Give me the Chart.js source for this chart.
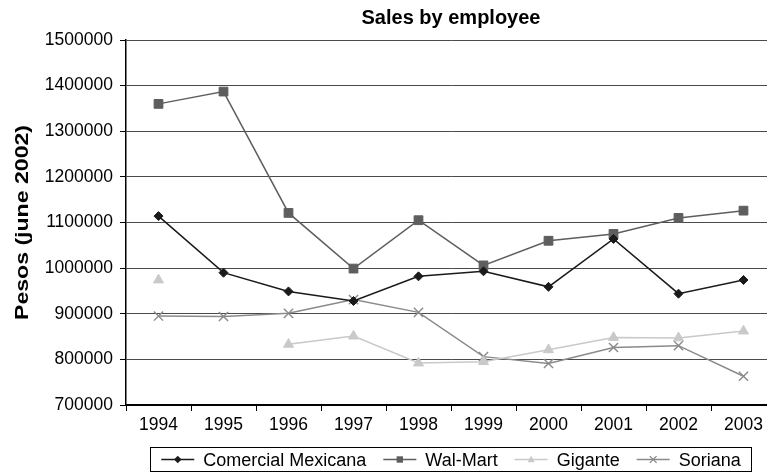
<!DOCTYPE html>
<html>
<head>
<meta charset="utf-8">
<script src="https://cdn.jsdelivr.net/npm/chart.js@4/dist/chart.umd.min.js"></script>
<style>
html,body{margin:0;padding:0;overflow:hidden;background:#fff;width:767px;height:474px}
canvas{display:block}
</style>
</head>
<body>
<canvas id="c" width="790" height="474"></canvas>
<script>
// ---- data ----
const years = ['1994','1995','1996','1997','1998','1999','2000','2001','2002','2003'];
const comercialMexicana = [1114000, 990000, 949000, 928000, 982000, 993000, 959000, 1064000, 944000, 974000];
const walMart = [1360000, 1387000, 1121000, 999000, 1105000, 1006000, 1060000, 1075000, 1110000, 1126000];
const gigante = [974000, null, 833000, 851000, 792000, 795000, 821000, 848000, 847000, 862000];
const soriana = [895000, 894000, 901000, 931000, 903000, 806000, 791000, 826000, 830000, 763000];
const yMin = 700000, yMax = 1500000, yStep = 100000;
const titleText = 'Sales by employee';
const yTitleText = 'Pesos (june 2002)';
const seriesNames = ['Comercial Mexicana', 'Wal-Mart', 'Gigante', 'Soriana'];

const FONT = '"Liberation Sans", Arial, Helvetica, sans-serif';
const styles = [
  {color:'#1a1a1a', shape:'diamond', r:4.5},
  {color:'#5e5e5e', shape:'square', r:4.6},
  {color:'#c9c9c9', shape:'triangle', r:5.6},
  {color:'#8a8a8a', shape:'x', r:4.8}
];
const pointStyleMap = {diamond:'rectRot', square:'rect', triangle:'triangle', x:'crossRot'};
const pointRadius = [4.5, 6.2, 5.8, 6.5];

function drawMarker(ctx, shape, x, y, r, color){
  ctx.save();
  ctx.fillStyle = color; ctx.strokeStyle = color; ctx.lineWidth = 1.3;
  ctx.beginPath();
  if (shape === 'diamond') {
    ctx.moveTo(x, y - r); ctx.lineTo(x + r, y); ctx.lineTo(x, y + r); ctx.lineTo(x - r, y); ctx.closePath(); ctx.fill();
  } else if (shape === 'square') {
    ctx.rect(x - r, y - r, 2*r, 2*r); ctx.fill();
  } else if (shape === 'triangle') {
    ctx.moveTo(x, y - r); ctx.lineTo(x + r*0.95, y + r*0.7); ctx.lineTo(x - r*0.95, y + r*0.7); ctx.closePath(); ctx.fill();
  } else {
    ctx.moveTo(x - r, y - r); ctx.lineTo(x + r, y + r); ctx.moveTo(x + r, y - r); ctx.lineTo(x - r, y + r); ctx.stroke();
  }
  ctx.restore();
}

const decor = {
  id: 'decor',
  afterDraw(chart){
    const ctx = chart.ctx;
    const ca = chart.chartArea;
    const cx = (ca.left + ca.right) / 2;
    ctx.save();
    // title
    ctx.fillStyle = '#000';
    ctx.font = 'bold 20px ' + FONT;
    ctx.textAlign = 'center';
    ctx.textBaseline = 'alphabetic';
    ctx.fillText(titleText, cx, 24);
    // y axis title (stretched along its length)
    ctx.save();
    ctx.font = 'bold 18.6px ' + FONT;
    const w = ctx.measureText(yTitleText).width;
    ctx.translate(28.3, (ca.top + ca.bottom) / 2);
    ctx.rotate(-Math.PI / 2);
    ctx.scale(195 / w, 1);
    ctx.textAlign = 'center';
    ctx.fillText(yTitleText, 0, 0);
    ctx.restore();
    // legend
    ctx.font = '18px ' + FONT;
    const lineLen = 33, gap = 9, sep = 17, pad = 11;
    const widths = seriesNames.map(n => ctx.measureText(n).width);
    let total = 0;
    widths.forEach((tw, i) => { total += lineLen + gap + tw + (i < widths.length - 1 ? sep : 0); });
    let x = cx - total / 2;
    const ly = 459.5;
    ctx.strokeStyle = '#000';
    ctx.lineWidth = 1;
    ctx.strokeRect(Math.round(x - pad) + 0.5, 447.5, Math.round(total + 2*pad), 24);
    ctx.textAlign = 'left';
    seriesNames.forEach((n, i) => {
      const st = styles[i];
      ctx.strokeStyle = st.color; ctx.lineWidth = 1.5;
      ctx.beginPath(); ctx.moveTo(x, ly); ctx.lineTo(x + lineLen, ly); ctx.stroke();
      drawMarker(ctx, st.shape, x + lineLen/2, ly, st.shape === 'square' ? 3.2 : (st.shape === 'x' ? 3.4 : 3.8), st.color);
      ctx.fillStyle = '#000';
      ctx.fillText(n, x + lineLen + gap, ly + 6.5);
      x += lineLen + gap + widths[i] + sep;
    });
    ctx.restore();
  }
};

const seriesData = [comercialMexicana, walMart, gigante, soriana];
const datasets = seriesNames.map((n, i) => ({
  label: n,
  data: seriesData[i],
  borderColor: styles[i].color,
  backgroundColor: styles[i].color,
  pointBackgroundColor: styles[i].color,
  pointBorderColor: styles[i].color,
  borderWidth: 1.5,
  pointStyle: pointStyleMap[styles[i].shape],
  pointRadius: pointRadius[i],
  pointBorderWidth: i === 3 ? 1.4 : 1,
  pointHoverRadius: pointRadius[i],
  tension: 0,
  spanGaps: false,
  fill: false
}));

new Chart(document.getElementById('c'), {
  type: 'line',
  data: { labels: years, datasets },
  options: {
    responsive: false,
    devicePixelRatio: 1,
    animation: false,
    layout: { padding: { top: 40, right: 14, bottom: 39, left: 0 } },
    plugins: { legend: { display: false }, title: { display: false }, tooltip: { enabled: false } },
    scales: {
      x: {
        offset: true,
        afterFit(s){ s.height = 30; },
        grid: { display: true, drawOnChartArea: false, offset: true, tickLength: 6, tickColor: '#000', tickWidth: 1 },
        border: { color: '#000', width: 2 },
        ticks: { color: '#000', font: { family: FONT, size: 17.5 }, padding: 4, maxRotation: 0, autoSkip: false }
      },
      y: {
        min: yMin, max: yMax,
        afterFit(s){ s.width = 126; },
        grid: { color: '#4a4a4a', lineWidth: 1, tickLength: 6, tickColor: '#000' },
        border: { color: '#000', width: 1.5 },
        ticks: { stepSize: yStep, color: '#000', font: { family: FONT, size: 17.5 }, padding: 7, callback: v => String(v) }
      }
    }
  },
  plugins: [decor]
});
</script>
</body>
</html>
